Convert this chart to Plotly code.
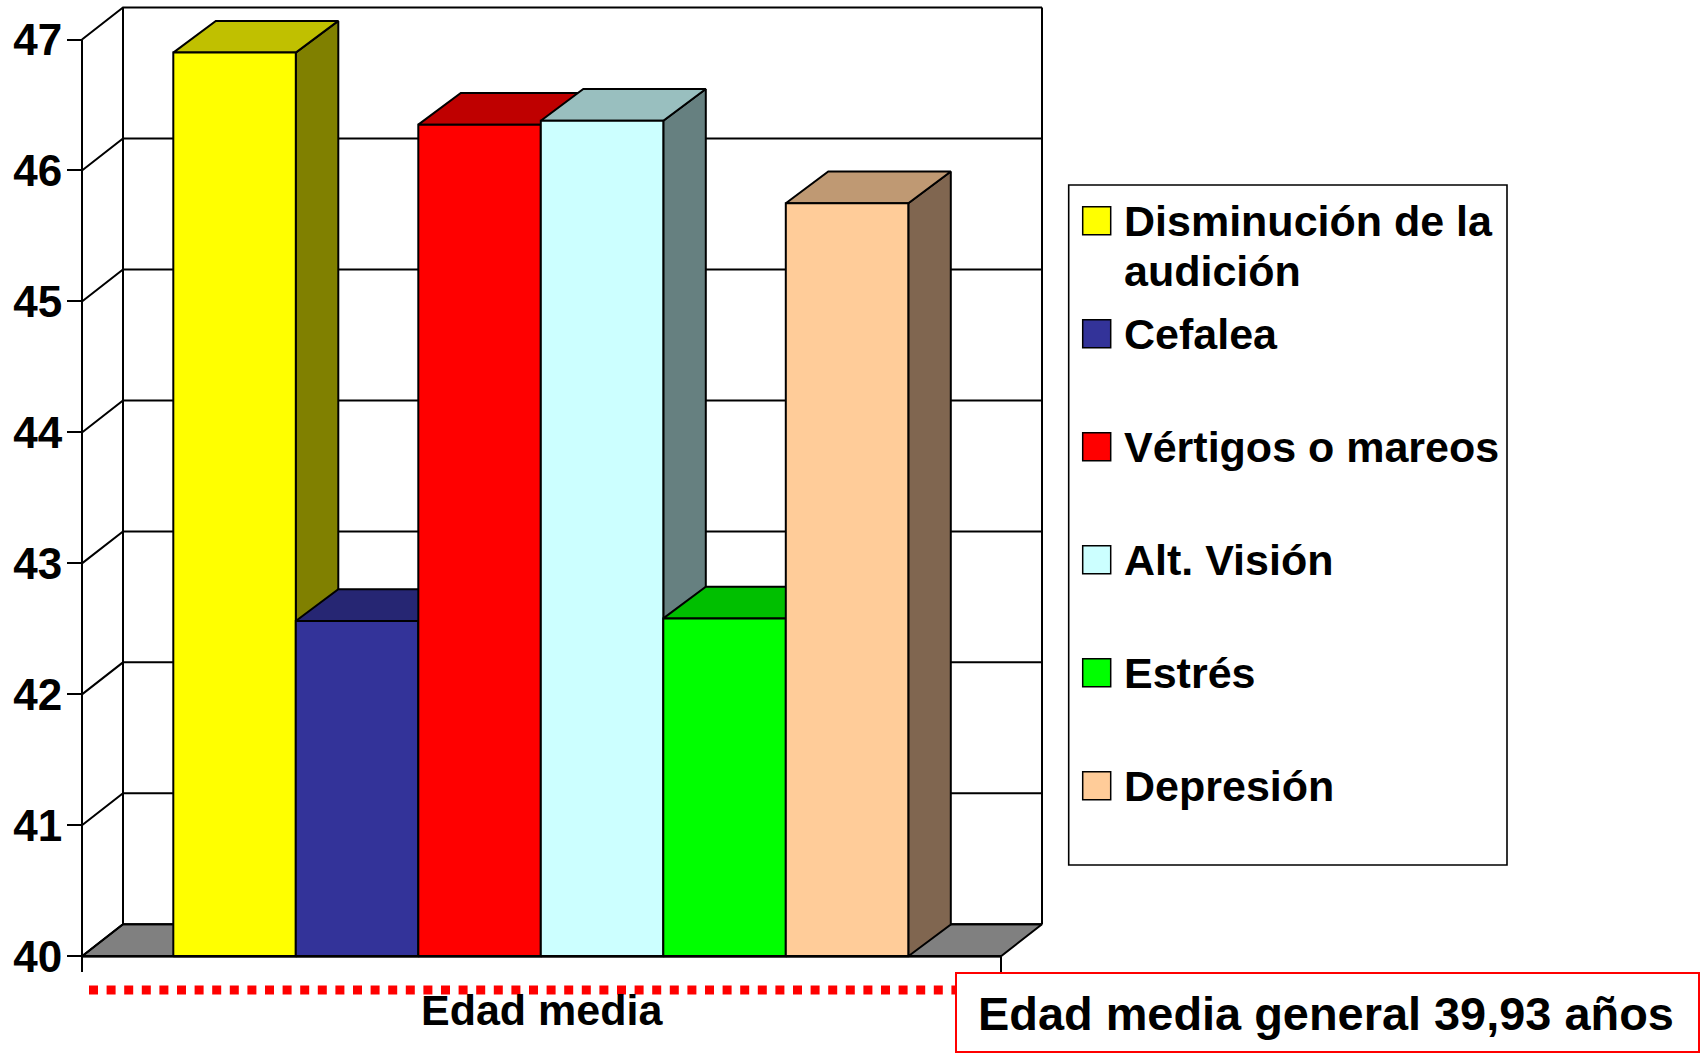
import plotly.graph_objects as go

# ---- data ----
categories = ["Disminución de la<br>audición", "Cefalea", "Vértigos o mareos",
              "Alt. Visión", "Estrés", "Depresión"]
values = [46.90, 42.56, 46.35, 46.38, 42.58, 45.75]
front_colors = ["#FFFF00", "#333399", "#FF0000", "#CCFFFF", "#00FF00", "#FFCC99"]
top_colors = ["#C0C000", "#262673", "#BF0000", "#99BFBF", "#00BF00", "#BF9973"]
side_colors = ["#808000", "#1A1A4D", "#800000", "#668080", "#008000", "#806650"]
y_ticks = [40, 41, 42, 43, 44, 45, 46, 47]
axis_title = "Edad media"
note_text = "Edad media general 39,93 años"

# ---- geometry helpers (page is 1700x1053) ----
W, H = 1700, 1053
FONT = "Liberation Sans"
BAR_PX = 122.5
UNIT_PX = 130.97
X0_PX, Y40_PX = 173.3, 956.3
x_range = [-X0_PX / BAR_PX, (W - X0_PX) / BAR_PX]
y_range = [40 - (H - Y40_PX) / UNIT_PX, 40 + Y40_PX / UNIT_PX]
x_min = (82 - X0_PX) / BAR_PX
x_max = (1001 - X0_PX) / BAR_PX
wall_dx = 41 / BAR_PX
wall_dy = 32 / UNIT_PX
bar_dx = 42.5 / BAR_PX
bar_dy = 31.7 / UNIT_PX
base = y_ticks[0]
top = y_ticks[-1]
LW = 2


def px(x):
    return x / W


def py(y):
    return 1 - y / H


fig = go.Figure()


def poly(xs, ys, fill, name, width=LW):
    fig.add_trace(go.Scatter(
        x=xs + xs[:1], y=ys + ys[:1], mode="lines", fill="toself", fillcolor=fill,
        line=dict(color="black", width=width), hoverinfo="skip", showlegend=False, name=name))


def lines(xs, ys, name, width=LW):
    fig.add_trace(go.Scatter(
        x=xs, y=ys, mode="lines", line=dict(color="black", width=width),
        hoverinfo="skip", showlegend=False, name=name))


# floor
poly([x_min, x_max, x_max + wall_dx, x_min + wall_dx],
     [base, base, base + wall_dy, base + wall_dy], "#808080", "floor")

# walls and grid
gx, gy = [], []
for v in y_ticks:
    gx += [x_min, x_min + wall_dx, x_max + wall_dx, None]
    gy += [v, v + wall_dy, v + wall_dy, None]
lines(gx, gy, "grid")
lines([x_min + wall_dx, x_min + wall_dx, None, x_max + wall_dx, x_max + wall_dx],
      [base + wall_dy, top + wall_dy, None, base + wall_dy, top + wall_dy], "wall edges")
lines([x_min, x_min], [base, top], "front axis")

# bars, painted left to right
for i, (cat, v) in enumerate(zip(categories, values)):
    l, r = i, i + 1
    poly([r, r + bar_dx, r + bar_dx, r], [base, base + bar_dy, v + bar_dy, v], side_colors[i], cat + " side")
    poly([l, r, r + bar_dx, l + bar_dx], [v, v, v + bar_dy, v + bar_dy], top_colors[i], cat + " top")
    poly([l, r, r, l], [base, base, v, v], front_colors[i], cat)

lines([x_min, x_max], [base, base], "base line", width=2.5)

shapes = [
    dict(type="line", xref="paper", yref="paper", x0=px(89), x1=px(956), y0=py(990), y1=py(990),
         line=dict(color="#FF0000", width=9, dash="9px,8.6px")),
    dict(type="rect", xref="paper", yref="paper", x0=px(956), x1=px(1699), y0=py(973), y1=py(1052),
         line=dict(color="#FF0000", width=2), fillcolor="white"),
    dict(type="rect", xref="paper", yref="paper", x0=px(1068.7), x1=px(1507), y0=py(185), y1=py(865),
         line=dict(color="black", width=1.6), fillcolor="white"),
]

annotations = [
    dict(xref="paper", yref="paper", x=px(541.5), y=py(1010), text=axis_title, showarrow=False,
         xanchor="center", yanchor="middle", font=dict(family=FONT, size=43, weight=700, color="black")),
    dict(xref="paper", yref="paper", x=px(976), y=py(1014), text=note_text, showarrow=False,
         xanchor="left", yanchor="middle", font=dict(family=FONT, size=46.9, weight=700, color="black")),
]

for i, cat in enumerate(categories):
    top_px = 206.7 + 113 * i
    shapes.append(dict(type="rect", xref="paper", yref="paper", x0=px(1082.7), x1=px(1110.7),
                       y0=py(top_px), y1=py(top_px + 28), fillcolor=front_colors[i],
                       line=dict(color="black", width=1.5)))
    for j, part in enumerate(cat.split("<br>")):
        annotations.append(dict(xref="paper", yref="paper", x=px(1121.5), y=py(top_px + 14 + 50 * j),
                                text=part, showarrow=False, xanchor="left", yanchor="middle",
                                font=dict(family=FONT, size=43, weight=700, color="black")))

fig.update_layout(
    width=W, height=H, autosize=False,
    margin=dict(l=0, r=0, t=0, b=0, pad=0),
    paper_bgcolor="white", plot_bgcolor="white",
    showlegend=False,
    shapes=shapes, annotations=annotations,
    xaxis=dict(range=x_range, domain=[0, 1], anchor="free", position=py(Y40_PX),
               showgrid=False, zeroline=False, showline=False,
               tickmode="array", tickvals=[x_min, x_max], ticktext=["", ""],
               ticks="outside", ticklen=15, tickwidth=LW, tickcolor="black"),
    yaxis=dict(range=y_range, domain=[0, 1], anchor="free", position=px(82),
               showgrid=False, zeroline=False, showline=False,
               tickmode="array", tickvals=y_ticks, ticktext=[str(t) for t in y_ticks],
               ticks="outside", ticklen=15, tickwidth=LW, tickcolor="black",
               ticklabelstandoff=-4,
               tickfont=dict(family=FONT, size=44, weight=700, color="black")),
)

fig.write_html("out.html", config={"displayModeBar": False},
               post_script="document.body.style.margin='0';document.documentElement.style.overflow='hidden';")
